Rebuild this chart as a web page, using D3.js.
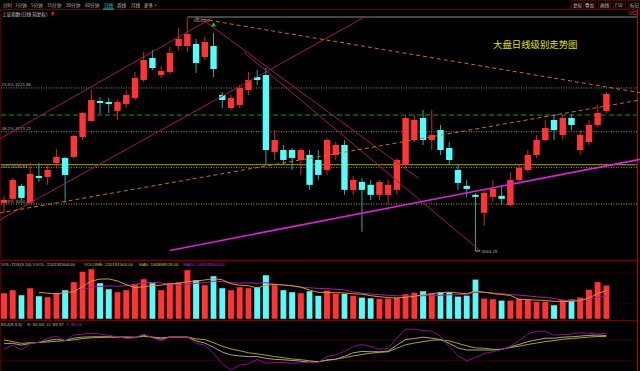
<!DOCTYPE html>
<html>
<head>
<meta charset="utf-8">
<script src="https://cdn.jsdelivr.net/npm/d3@7"></script>
<style>
  body { margin: 0; background: #000; }
  svg { display: block; }
</style>
</head>
<body>
<div id="chart"></div>
<script>
// daily candles, oldest first
var open = [3095.7,3100.0,3114.0,3095.7,3124.8,3123.7,3138.9,3144.4,3145.5,3167.4,
  3185.1,3207.3,3206.2,3196.2,3204.0,3210.6,3230.8,3255.6,3236.4,3239.8,
  3269.2,3269.2,3271.5,3256.7,3269.2,3214.0,3199.5,3202.8,3219.6,3234.2,
  3236.4,3151.0,3153.1,3153.1,3142.2,3147.7,3142.2,3131.3,3147.7,3158.6,
  3109.7,3118.3,3115.1,3104.3,3104.3,3109.7,3136.8,3164.1,3188.4,3164.1,
  3175.1,3155.3,3131.3,3114.0,3104.3,3085.0,3102.1,3103.2,3093.5,3120.5,
  3131.3,3147.7,3164.1,3186.2,3169.6,3188.4,3153.1,3161.9,3180.7,3196.2];
var high = [3103.2,3122.6,3116.1,3138.9,3138.9,3136.8,3154.2,3145.5,3169.6,3195.1,
  3219.6,3211.8,3210.6,3208.4,3219.6,3239.8,3262.4,3264.7,3246.6,3268.1,
  3289.7,3301.21,3277.2,3279.5,3284.0,3217.3,3214.0,3225.2,3239.8,3242.0,
  3244.3,3175.1,3158.6,3155.3,3155.3,3153.1,3153.1,3166.3,3161.9,3164.1,
  3124.8,3122.6,3120.5,3120.5,3120.5,3144.4,3190.6,3191.7,3197.3,3197.3,
  3180.7,3161.9,3136.8,3120.5,3106.4,3109.7,3120.5,3115.1,3129.1,3136.8,
  3153.1,3169.6,3186.2,3191.7,3191.7,3192.8,3175.1,3186.2,3202.8,3217.3];
var low = [3085.0,3097.8,3098.9,3094.6,3118.3,3115.1,3133.5,3095.7,3144.4,3164.1,
  3184.0,3192.8,3194.0,3186.2,3199.5,3208.4,3228.5,3242.0,3233.0,3237.5,
  3264.7,3262.4,3238.7,3253.3,3234.2,3199.5,3197.3,3199.5,3214.0,3225.2,
  3136.8,3142.2,3136.8,3131.3,3125.9,3109.7,3120.5,3125.9,3142.2,3104.3,
  3104.3,3064.7,3098.9,3098.9,3093.5,3104.3,3133.5,3161.9,3158.6,3153.1,
  3147.7,3136.8,3109.7,3102.1,3044.29,3071.1,3096.7,3093.5,3091.4,3118.3,
  3129.1,3144.4,3161.9,3164.1,3164.1,3175.1,3147.7,3158.6,3178.4,3194.0];
var close = [3098.9,3120.5,3101.0,3127.0,3122.6,3131.3,3145.5,3125.9,3168.5,3194.0,
  3208.4,3205.1,3204.0,3206.2,3214.0,3233.0,3253.3,3244.3,3240.9,3261.3,
  3277.2,3282.9,3249.9,3273.8,3243.2,3208.4,3210.6,3221.8,3230.8,3230.8,
  3153.1,3164.1,3142.2,3144.4,3153.1,3115.1,3125.9,3164.1,3158.6,3109.7,
  3120.5,3109.7,3104.3,3118.3,3115.1,3142.2,3188.4,3186.2,3164.1,3169.6,
  3153.1,3142.2,3117.2,3110.7,3102.1,3106.4,3110.7,3100.0,3120.5,3133.5,
  3147.7,3164.1,3177.3,3175.1,3188.4,3180.7,3169.6,3180.7,3194.0,3215.1];
// volume, millions of shares
var volume = [169.8,189.4,156.7,202.4,150.2,143.7,169.8,189.4,241.6,309.0,
  326.5,235.1,195.9,176.3,189.4,228.6,261.2,235.1,189.4,235.1,
  241.6,320.0,254.7,222.0,280.8,202.4,189.4,209.0,202.4,209.0,
  287.3,222.0,189.4,176.3,169.8,182.8,152.1,187.4,165.2,165.2,
  152.1,141.7,137.1,132.6,135.2,139.1,163.3,171.7,182.8,167.8,
  176.3,176.3,148.2,154.8,259.2,135.2,130.6,122.1,122.1,132.6,
  126.0,113.0,113.0,91.4,127.5,128.6,141.7,192.0,242.4,220.19];
// KDJ(9,3,3)
var kVal = [70,70,65,70,73,78,82,78,85,88,89,89,89,88,88,87,93,88,82,89,
  89,89,77,71,59,45,37,34,32,32,27,24,23,21,19,16,17,22,24,33,
  43,47,46,46,48,65,81,84,88,85,81,70,57,51,51,51,51,53,60,67,
  75,80,85,85,88,89,91,93,94,92.63];
var dVal = [80,75,70,72,73,74,76,78,80,84,86,87,88,88,88,88,90,88,86,88,
  88,88,83,81,72,62,54,49,43,40,36,32,29,25,23,20,17,22,25,29,
  34,38,42,44,46,56,66,71,75,79,80,77,70,63,57,56,53,53,58,62,
  67,71,75,78,82,84,86,88,90,89.37];
var jVal = [53,65,51,70,73,85,91,78,94,97,99,97,93,89,84,86,97,86,77,89,
  89,89,70,65,41,11,-7,8,11,24,13,15,15,13,14,15,15,32,37,47,
  61,67,61,53,55,85,111,111,107,105,91,61,34,20,29,41,46,52,61,78,
  97,105,105,94,95,97,101,99,97,99.16];

// retracement levels and drawn lines, [candle index, price]
var fibPct = ["23.6%", "38.2%", "50%", "61.8%"];
var fibPrice = [3221.86, 3173.22, 3133.83, 3094.43];
var highMark = [21, 3301.21];
var lowMark = [54, 3044.29];
var greenLevel = 3191.7;
var yellowLevel = 3137.0;
var channelUpA = [[-0.5, 3165.2], [23.8, 3301.2]];
var channelUpB = [[-0.5, 3077.5], [41.1, 3301.2]];
var channelDownA = [[22.5, 3301.2], [47.5, 3122.0]];
var channelDownB = [[27.5, 3262.0], [54.5, 3044.9]];
var orangeDown = [[21.9, 3301.2], [72.9, 3216.6]];
var orangeUp = [[-0.5, 3084.8], [72.9, 3208.5]];
var magentaUp = [[19.0, 3044.9], [72.9, 3143.0]];

var menuItems = ["分时", "1分钟", "5分钟", "15分钟", "30分钟", "60分钟", "日线", "周线", "月线", "更多 >"];
var menuX = [3, 15, 31, 47, 66, 85, 104, 117, 131, 144];
var toolItems = ["复权", "叠加", "画线", "F10", "标记"];
var toolX = [573, 585, 600, 615, 630];

var W = 640, H = 371;
var svg = d3.select("#chart").append("svg")
    .attr("width", W).attr("height", H)
    .style("background", "#000");

var latin = "'Liberation Sans', Arial, sans-serif";
var cjk = "'Noto Sans CJK SC', sans-serif";
var RED = "#ff3434", CYAN = "#54fcfc", FRAME = "#7a0000";

var n = close.length;
var x = d3.scaleLinear().domain([0, n - 1]).range([4, 606.4]);
var y = d3.scaleLog().domain([d3.min(low), d3.max(high)]).range([251, 18]);
var yVol = d3.scaleLinear().domain([0, 346]).range([319, 266]);
var yKdj = d3.scaleLinear().domain([-10, 110]).range([371.2, 329.5]);
var bw = 6.4;

// frame
svg.append("line").attr("x1", 0).attr("x2", W).attr("y1", 9.5).attr("y2", 9.5).attr("stroke", FRAME);
svg.append("line").attr("x1", 0).attr("x2", 637).attr("y1", 260.5).attr("y2", 260.5).attr("stroke", FRAME).attr("stroke-width", 1.5);
svg.append("line").attr("x1", 0).attr("x2", 637).attr("y1", 320.5).attr("y2", 320.5).attr("stroke", FRAME);
svg.append("line").attr("x1", 637.5).attr("x2", 637.5).attr("y1", 9.5).attr("y2", H).attr("stroke", "#b00000");
svg.append("line").attr("x1", 0.5).attr("x2", 0.5).attr("y1", 9.5).attr("y2", H).attr("stroke", "#500000");

// grid in lower panels
[20, 80].forEach(function(v) {
  svg.append("line").attr("x1", 1).attr("x2", 637).attr("y1", yKdj(v)).attr("y2", yKdj(v))
    .attr("stroke", "#3a0000");
});
[300, 100].forEach(function(v) {
  svg.append("line").attr("x1", 1).attr("x2", 637).attr("y1", yVol(v)).attr("y2", yVol(v))
    .attr("stroke", "#2a0000");
});

// top menu
var menu = svg.append("g").attr("font-family", cjk).attr("font-size", 4.6);
menu.selectAll("text").data(menuItems).enter().append("text")
  .attr("x", function(d, i) { return menuX[i]; })
  .attr("y", 6.8)
  .attr("fill", function(d) { return d == "日线" ? "#00d8d8" : "#b8b8b8"; })
  .text(function(d) { return d; });
svg.append("line").attr("x1", 103).attr("x2", 114).attr("y1", 9).attr("y2", 9).attr("stroke", "#00d8d8");
var tools = svg.append("g").attr("font-family", cjk).attr("font-size", 4.6);
tools.selectAll("rect").data(toolItems).enter().append("rect")
  .attr("x", function(d, i) { return toolX[i] - 1.5; })
  .attr("y", 0.5).attr("width", 12).attr("height", 8.5)
  .attr("fill", "none").attr("stroke", "#5a0000");
tools.selectAll("text").data(toolItems).enter().append("text")
  .attr("x", function(d, i) { return toolX[i]; })
  .attr("y", 6.5).attr("fill", "#c0c0c0")
  .text(function(d) { return d; });
// small window icons under the tool buttons
svg.append("circle").attr("cx", 630.5).attr("cy", 13).attr("r", 1.6)
  .attr("fill", "none").attr("stroke", "#c03030").attr("stroke-width", 0.7);
svg.append("rect").attr("x", 633).attr("y", 11.3).attr("width", 3.2).attr("height", 3.2)
  .attr("fill", "none").attr("stroke", "#c03030").attr("stroke-width", 0.7);

svg.append("text").attr("x", 2).attr("y", 15.5).attr("font-family", cjk).attr("font-size", 4.6)
  .attr("fill", "#c8c8c8").text("上证指数(日线 前复权)");
svg.append("text").attr("x", 50).attr("y", 15.5).attr("font-family", latin).attr("font-size", 6)
  .attr("fill", "#ff2020").attr("font-weight", "bold").text("✝");

// horizontal reference lines
svg.append("line").attr("x1", x(highMark[0])).attr("x2", 637)
  .attr("y1", y(highMark[1]) - 1).attr("y2", y(highMark[1]) - 1).attr("stroke", "#8a8a8a");
svg.append("line").attr("x1", 1).attr("x2", 637).attr("y1", y(greenLevel)).attr("y2", y(greenLevel))
  .attr("stroke", "#1a9a1a").attr("stroke-dasharray", "5,3");
svg.append("line").attr("x1", 1).attr("x2", 637).attr("y1", y(yellowLevel)).attr("y2", y(yellowLevel))
  .attr("stroke", "#a8a800");
fibPrice.forEach(function(p, i) {
  var yy = y(p);
  svg.append("line").attr("x1", 1).attr("x2", 637).attr("y1", yy).attr("y2", yy)
    .attr("stroke", i == 3 ? "#b0b000" : "#8a8a8a").attr("stroke-dasharray", "1,1.5");
  svg.append("text").attr("x", 1.5).attr("y", i == 2 ? yy + 0.5 : yy - 1.5)
    .attr("font-family", latin).attr("font-size", 4.4).attr("fill", "#a8a8a8")
    .text(fibPct[i] + " " + p.toFixed(2));
});

// candles
var candle = svg.append("g").selectAll("g").data(d3.range(n)).enter().append("g");
candle.append("line")
  .attr("x1", function(i) { return x(i); }).attr("x2", function(i) { return x(i); })
  .attr("y1", function(i) { return y(high[i]); }).attr("y2", function(i) { return y(low[i]); })
  .attr("stroke", function(i) { return close[i] >= open[i] ? "#d02828" : "#2aa8a8"; });
candle.append("rect")
  .attr("x", function(i) { return x(i) - bw / 2; })
  .attr("width", bw)
  .attr("y", function(i) { return y(Math.max(open[i], close[i])); })
  .attr("height", function(i) { return Math.max(1, Math.abs(y(open[i]) - y(close[i]))); })
  .attr("fill", function(i) { return close[i] >= open[i] ? RED : CYAN; });

// drawn lines
function seg(pts, color, dash, w) {
  svg.append("line")
    .attr("x1", x(pts[0][0])).attr("y1", y(pts[0][1]))
    .attr("x2", x(pts[1][0])).attr("y2", y(pts[1][1]))
    .attr("stroke", color).attr("stroke-width", w || 1)
    .attr("stroke-dasharray", dash);
}
seg(channelUpA, "#a01a5a");
seg(channelUpB, "#a01a5a");
seg(channelDownA, "#a01a5a");
seg(channelDownB, "#a01a5a");
seg(orangeDown, "#c8701e", "4,3");
seg(orangeUp, "#c8701e", "4,3");
seg(magentaUp, "#e020e0", null, 1.6);

// high / low markers
svg.append("text").attr("x", x(highMark[0]) + 6).attr("y", y(highMark[1]) + 4)
  .attr("font-family", latin).attr("font-size", 4.4).attr("fill", "#b0b0b0")
  .text(highMark[1].toFixed(2));
svg.append("line").attr("x1", x(lowMark[0])).attr("x2", x(lowMark[0]) + 5)
  .attr("y1", y(lowMark[1])).attr("y2", y(lowMark[1])).attr("stroke", "#b0b0b0");
svg.append("text").attr("x", x(lowMark[0]) + 6).attr("y", y(lowMark[1]) + 1.5)
  .attr("font-family", latin).attr("font-size", 4.4).attr("fill", "#b0b0b0")
  .text(lowMark[1].toFixed(2));
svg.append("path")
  .attr("d", d3.symbol().type(d3.symbolTriangle).size(10)())
  .attr("transform", "translate(" + x(24) + "," + (y(high[24]) - 8) + ")")
  .attr("fill", "#20c020");

svg.append("text").attr("x", 493).attr("y", 48).attr("font-family", cjk).attr("font-size", 9.4)
  .attr("fill", "#e0e000").text("大盘日线级别走势图");

// volume panel
svg.append("g").selectAll("rect").data(d3.range(n)).enter().append("rect")
  .attr("x", function(i) { return x(i) - bw / 2; })
  .attr("width", bw)
  .attr("y", function(i) { return yVol(volume[i]); })
  .attr("height", function(i) { return yVol(0) - yVol(volume[i]); })
  .attr("fill", function(i) { return close[i] >= open[i] ? RED : CYAN; })
  .attr("stroke", "#300000").attr("stroke-width", 0.5);

function ma(arr, k) {
  return arr.map(function(v, i) { return i < k - 1 ? null : d3.mean(arr.slice(i - k + 1, i + 1)); });
}
var ma5 = ma(volume, 5), ma10 = ma(volume, 10);
var volLine = d3.line().defined(function(d) { return d != null; })
  .x(function(d, i) { return x(i); }).y(function(d) { return yVol(d); });
svg.append("path").datum(ma10).attr("d", volLine).attr("fill", "none").attr("stroke", "#b018b0");
svg.append("path").datum(ma5).attr("d", volLine).attr("fill", "none").attr("stroke", "#d89a20");

var volHead = svg.append("g").attr("font-family", latin).attr("font-size", 4.4);
volHead.append("text").attr("x", 1).attr("y", 266).attr("fill", "#c0c0c0").text("VOL-TDX(5,10)  VVOL: 220191504.00");
volHead.append("text").attr("x", 84).attr("y", 266).attr("fill", "#c8c800").text("VOLUME: 220191504.00");
volHead.append("text").attr("x", 139).attr("y", 266).attr("fill", "#c8c800").text("MA5: 184888528.00");
volHead.append("text").attr("x", 183).attr("y", 266).attr("fill", "#d020d0").text("MA10: 149578544.00");

// KDJ panel
var kdjLine = d3.line().x(function(d, i) { return x(i); }).y(function(d) { return yKdj(d); });
svg.append("path").datum(dVal).attr("d", kdjLine).attr("fill", "none").attr("stroke", "#a8a800");
svg.append("path").datum(kVal).attr("d", kdjLine).attr("fill", "none").attr("stroke", "#a0a0a0");
svg.append("path").datum(jVal).attr("d", kdjLine).attr("fill", "none").attr("stroke", "#900a90");

var kdjHead = svg.append("g").attr("font-family", latin).attr("font-size", 4.4);
kdjHead.append("text").attr("x", 1).attr("y", 325.5).attr("fill", "#c0c0c0").text("KDJ(9,3,3)");
kdjHead.append("text").attr("x", 27.5).attr("y", 325.5).attr("fill", "#c0c0c0").text("K: " + kVal[n - 1].toFixed(2));
kdjHead.append("text").attr("x", 47).attr("y", 325.5).attr("fill", "#c8c800").text("D: " + dVal[n - 1].toFixed(2));
kdjHead.append("text").attr("x", 66).attr("y", 325.5).attr("fill", "#c020c0").text("J: " + jVal[n - 1].toFixed(2));
</script>
</body>
</html>
